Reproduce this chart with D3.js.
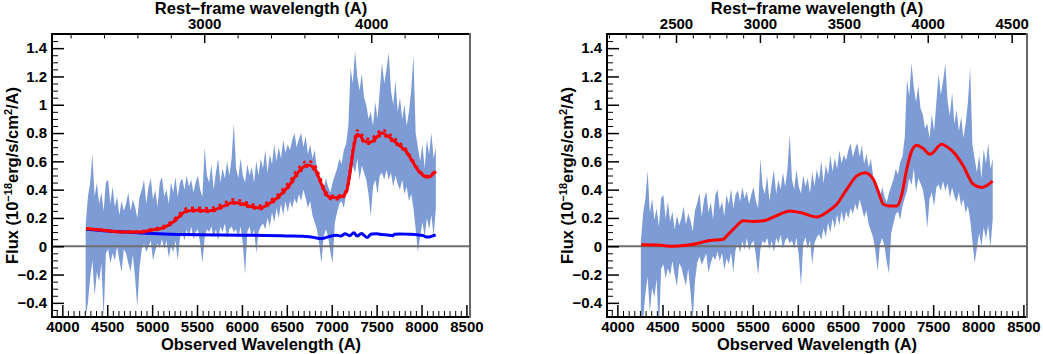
<!DOCTYPE html>
<html>
<head>
<meta charset="utf-8">
<script src="https://cdn.jsdelivr.net/npm/d3@7"></script>
<style>
  body { margin: 0; background: #fff; }
  svg { display: block; font-family: "Liberation Sans", Arial, sans-serif; font-weight: bold; }
</style>
</head>
<body>
<script>
// ---- data ----
const redshift = 0.86;
const obsRange = [3885, 8540];
const fluxRange = [-0.5, 1.5];
const obsTicks = [4000, 4500, 5000, 5500, 6000, 6500, 7000, 7500, 8000, 8500];
const fluxTicks = [-0.4, -0.2, 0, 0.2, 0.4, 0.6, 0.8, 1, 1.2, 1.4];
const restTicksLeft = [3000, 4000];
const restTicksRight = [2500, 3000, 3500, 4000, 4500];

// observed spectrum, upper / lower edge of the shaded band (25 A bins from 4260 A)
const specWave = d3.range(4260, 8161, 25);
const specHi = [
  0.15, 0.35, 0.45, 0.65, 0.35, 0.45, 0.30, 0.38, 0.25, 0.45,
  0.47, 0.30, 0.42, 0.28, 0.35, 0.22, 0.32, 0.25,
  0.30, 0.38, 0.25, 0.33, 0.28, 0.20, 0.35, 0.40,
  0.47, 0.30, 0.42, 0.48, 0.33, 0.40, 0.28, 0.45, 0.49, 0.35, 0.40, 0.30, 0.45, 0.38,
  0.49, 0.35, 0.45,
  0.48, 0.40, 0.50, 0.42, 0.47, 0.38, 0.45, 0.50, 0.40, 0.35,
  0.70, 0.50,
  0.45, 0.58, 0.40, 0.52, 0.62, 0.45, 0.55, 0.48, 0.60, 0.50, 0.62, 0.87,
  0.55, 0.48, 0.62, 0.50, 0.45, 0.58, 0.50, 0.56, 0.45, 0.60, 0.50, 0.62,
  0.55, 0.68, 0.52, 0.65, 0.58, 0.72, 0.60, 0.70, 0.62, 0.75, 0.66, 0.72, 0.68, 0.75, 0.80, 0.70,
  0.76, 0.80, 0.70, 0.78, 0.65, 0.72, 0.62, 0.68, 0.55,
  0.50, 0.45, 0.40, 0.48, 0.42, 0.38, 0.45, 0.50,
  0.55, 0.62, 0.58, 0.68, 0.72, 0.85, 1.26, 1.15,
  1.38, 1.20, 1.10, 1.22, 1.05,
  1.00, 0.90, 0.95, 0.85, 1.02, 0.90, 1.10,
  1.30, 1.15, 1.25, 1.37, 1.10, 1.00, 1.17, 0.95, 1.05, 0.90, 1.00, 0.85, 0.95, 1.10, 1.35,
  0.80, 0.70, 0.60, 0.72, 0.55, 0.75, 0.65, 0.80, 0.62, 0.70
];
const specLo = [
  -0.50, -0.40, -0.22, -0.10, -0.35, -0.18, -0.25, -0.12, -0.50, -0.05,
  -0.02, -0.12, -0.05, -0.10, 0.00, -0.10, -0.18, -0.02,
  -0.05, -0.12, -0.18, -0.06, -0.22, -0.43, -0.15, -0.02,
  0.02, -0.04, 0.00, 0.04, -0.10, -0.03, 0.02, -0.01, 0.05, -0.02, 0.04, -0.08, 0.00, -0.04,
  0.04, -0.10, 0.06,
  0.10, 0.04, 0.12, 0.06, 0.14, 0.05, 0.10, 0.12, 0.02, -0.12,
  0.06, 0.12,
  0.10, 0.14, 0.06, 0.12, 0.04, 0.14, 0.10, 0.16, 0.06, 0.12, 0.14, 0.10,
  0.12, 0.06, 0.14, 0.02, -0.20, 0.10, 0.14, 0.06, 0.12, -0.05, 0.10, 0.14,
  0.16, 0.12, 0.20, 0.14, 0.24, 0.17, 0.27, 0.20, 0.30, 0.22, 0.32, 0.24, 0.32, 0.27, 0.34, 0.30,
  0.37, 0.32, 0.40, 0.34, 0.27, 0.32, 0.22, 0.17, 0.12,
  0.02, -0.12, 0.07, 0.12, 0.07, -0.04, -0.12, 0.17,
  0.24, 0.30, 0.32, 0.27, 0.37, 0.42, 0.47, 0.57,
  0.52, 0.62, 0.47, 0.57, 0.52,
  0.47, 0.37, 0.21, 0.42, 0.47, 0.37, 0.50,
  0.52, 0.47, 0.54, 0.47, 0.52, 0.42, 0.50, 0.44, 0.40, 0.47, 0.37, 0.42, 0.32, 0.37, 0.27,
  0.12, -0.04, 0.07, 0.17, 0.07, 0.20, 0.12, 0.22, 0.07, 0.27
];

// host / contaminant component (blue line, left panel)
const hostWave = [4265, 4500, 4800, 5000, 5200, 5500, 6000, 6500, 6750, 6820, 6870, 6920, 6980, 7050, 7100,
  7150, 7200, 7246, 7283, 7330, 7395, 7440, 7500, 7560, 7620, 7680, 7700, 7760, 7850, 7950, 8020, 8065, 8110, 8158];
const hostFlux = [0.120, 0.108, 0.097, 0.090, 0.085, 0.082, 0.078, 0.073, 0.068, 0.060, 0.054, 0.058, 0.070, 0.078, 0.072,
  0.088, 0.075, 0.095, 0.072, 0.090, 0.062, 0.086, 0.088, 0.083, 0.080, 0.075, 0.085, 0.087, 0.085, 0.082, 0.075, 0.065, 0.070, 0.080];

// total model (red, left panel) and its upper / lower uncertainty (dotted)
const modelWave = [4265, 4500, 4700, 4863, 5000, 5120, 5232, 5300, 5385, 5500, 5600, 5678, 5800, 5902, 6000, 6100, 6203,
  6300, 6390, 6470, 6538, 6600, 6650, 6725, 6780, 6818, 6860, 6892, 6948, 7000, 7060, 7134, 7170, 7208, 7245, 7283,
  7320, 7357, 7431, 7500, 7560, 7630, 7692, 7760, 7823, 7890, 7953, 8010, 8065, 8110, 8158];
const modelFlux = [0.125, 0.110, 0.100, 0.100, 0.115, 0.130, 0.170, 0.210, 0.250, 0.255, 0.250, 0.255, 0.285, 0.310, 0.300, 0.280, 0.270,
  0.300, 0.340, 0.390, 0.440, 0.500, 0.540, 0.575, 0.565, 0.540, 0.480, 0.430, 0.360, 0.345, 0.345, 0.360, 0.400, 0.540, 0.700, 0.790,
  0.780, 0.745, 0.735, 0.770, 0.800, 0.775, 0.745, 0.710, 0.675, 0.610, 0.545, 0.505, 0.488, 0.500, 0.530];
const modelErrUp = [0.003, 0.003, 0.004, 0.005, 0.007, 0.010, 0.014, 0.016, 0.018, 0.018, 0.018, 0.018, 0.020, 0.020, 0.020, 0.018, 0.018,
  0.018, 0.020, 0.022, 0.024, 0.026, 0.027, 0.028, 0.028, 0.026, 0.022, 0.018, 0.014, 0.012, 0.012, 0.014, 0.016, 0.020, 0.025, 0.028,
  0.027, 0.025, 0.022, 0.024, 0.025, 0.024, 0.022, 0.018, 0.015, 0.012, 0.010, 0.008, 0.008, 0.008, 0.008];
const modelErrLow = [0.002, 0.002, 0.002, 0.003, 0.004, 0.005, 0.006, 0.007, 0.008, 0.008, 0.008, 0.008, 0.009, 0.009, 0.009, 0.008, 0.008,
  0.008, 0.009, 0.010, 0.011, 0.012, 0.012, 0.013, 0.013, 0.012, 0.012, 0.012, 0.012, 0.012, 0.012, 0.012, 0.010, 0.010, 0.012, 0.013,
  0.013, 0.012, 0.011, 0.012, 0.012, 0.012, 0.011, 0.009, 0.008, 0.006, 0.005, 0.004, 0.004, 0.004, 0.004];

// host-subtracted model (red, right panel)
const subWave = [4265, 4450, 4620, 4805, 5027, 5174, 5212, 5300, 5396, 5500, 5617, 5760, 5913, 6050, 6209, 6320, 6431, 6540,
  6653, 6745, 6837, 6890, 6948, 7020, 7096, 7150, 7207, 7260, 7318, 7390, 7465, 7595, 7660, 7723, 7834, 7945, 8038, 8158];
const subFlux = [0.010, 0.008, 0.000, 0.010, 0.040, 0.050, 0.073, 0.130, 0.180, 0.175, 0.180, 0.215, 0.250, 0.235, 0.207, 0.240, 0.297, 0.400,
  0.497, 0.520, 0.473, 0.390, 0.297, 0.285, 0.285, 0.360, 0.544, 0.670, 0.714, 0.690, 0.650, 0.720, 0.700, 0.667, 0.567, 0.438, 0.415, 0.460];

// ---- drawing ----
const width = 1043, height = 354;
const frameTop = 34, frameBottom = 317;
const bandColor = '#7d9bd4';

const svg = d3.select('body').append('svg')
  .attr('width', width)
  .attr('height', height);

const hostAt = d3.scaleLinear().domain(hostWave).range(hostFlux).clamp(true);

function styleAxis(g, size) {
  g.attr('font-size', size)
    .attr('font-family', '"Liberation Sans", Arial, sans-serif')
    .attr('font-weight', 'bold');
  g.select('.domain').remove();
}

function drawPanel(p) {
  const x = d3.scaleLinear().domain(obsRange).range([p.left, p.right]);
  const y = d3.scaleLinear().domain(fluxRange).range([frameBottom, frameTop]);
  const xr = d3.scaleLinear().domain(obsRange.map(v => v / (1 + redshift))).range([p.left, p.right]);

  const g = svg.append('g');

  g.append('clipPath').attr('id', p.id)
    .append('rect')
    .attr('x', p.left).attr('y', frameTop)
    .attr('width', p.right - p.left).attr('height', frameBottom - frameTop);

  const plot = g.append('g').attr('clip-path', `url(#${p.id})`);

  // spectrum band
  const rows = specWave.map((w, i) => {
    const off = p.subtract ? hostAt(w) : 0;
    return { w, hi: specHi[i] - off, lo: specLo[i] - off };
  });
  plot.append('path')
    .datum(rows)
    .attr('fill', bandColor)
    .attr('d', d3.area().x(d => x(d.w)).y0(d => y(d.lo)).y1(d => y(d.hi)));

  // zero line
  plot.append('line')
    .attr('x1', p.left).attr('x2', p.right)
    .attr('y1', y(0)).attr('y2', y(0))
    .attr('stroke', '#6e6e6e').attr('stroke-width', 2);

  const line = d3.line().curve(d3.curveMonotoneX).x(d => x(d[0])).y(d => y(d[1]));

  if (!p.subtract) {
    plot.append('path')
      .datum(hostWave.map((w, i) => [w, hostFlux[i]]))
      .attr('fill', 'none').attr('stroke', '#0000ff').attr('stroke-width', 3)
      .attr('d', line);

    [modelFlux.map((v, i) => v + modelErrUp[i]), modelFlux.map((v, i) => v - modelErrLow[i])].forEach(vals => {
      plot.append('path')
        .datum(modelWave.map((w, i) => [w, vals[i]]))
        .attr('fill', 'none').attr('stroke', '#ff0000').attr('stroke-width', 2.5)
        .attr('stroke-dasharray', '3,4')
        .attr('d', line);
    });
    plot.append('path')
      .datum(modelWave.map((w, i) => [w, modelFlux[i]]))
      .attr('fill', 'none').attr('stroke', '#ff0000').attr('stroke-width', 3)
      .attr('d', line);
  } else {
    plot.append('path')
      .datum(subWave.map((w, i) => [w, subFlux[i]]))
      .attr('fill', 'none').attr('stroke', '#ff0000').attr('stroke-width', 3)
      .attr('d', line);
  }

  // bottom axis (ticks point inwards)
  const obsMinor = d3.range(4000 - 62.5, obsRange[1], 62.5).filter(v => v > obsRange[0] && v % 500 !== 0);
  g.append('g').attr('transform', `translate(0,${frameBottom})`)
    .call(d3.axisBottom(x).tickValues(obsMinor).tickSize(-6).tickFormat(''))
    .call(a => styleAxis(a, 15));
  g.append('g').attr('transform', `translate(0,${frameBottom})`)
    .call(d3.axisBottom(x).tickValues(obsTicks).tickSize(-12).tickPadding(4).tickFormat(d3.format('d')))
    .call(a => styleAxis(a, 15))
    .selectAll('line').attr('stroke-width', 1.5);

  // left axis
  const fluxMinor = d3.range(-10, 31).map(k => k * 0.05)
    .filter(v => Math.abs(Math.round(v * 5) - v * 5) > 1e-6);
  g.append('g').attr('transform', `translate(${p.left},0)`)
    .call(d3.axisLeft(y).tickValues(fluxMinor).tickSize(-6).tickFormat(''))
    .call(a => styleAxis(a, 15));
  g.append('g').attr('transform', `translate(${p.left},0)`)
    .call(d3.axisLeft(y).tickValues(fluxTicks).tickSize(-12).tickPadding(5).tickFormat(d3.format('.1~f')))
    .call(a => styleAxis(a, 15))
    .selectAll('line').attr('stroke-width', 1.5);

  // top axis: rest-frame wavelength
  const rd = xr.domain();
  const restMinor = d3.range(Math.ceil(rd[0] / p.restMinor) * p.restMinor, rd[1], p.restMinor)
    .filter(v => !p.restTicks.includes(v));
  g.append('g').attr('transform', `translate(0,${frameTop})`)
    .call(d3.axisTop(xr).tickValues(restMinor).tickSize(-4.5).tickFormat(''))
    .call(a => styleAxis(a, 15));
  g.append('g').attr('transform', `translate(0,${frameTop})`)
    .call(d3.axisTop(xr).tickValues(p.restTicks).tickSize(-9).tickPadding(5.5).tickFormat(d3.format('d')))
    .call(a => styleAxis(a, 15))
    .selectAll('line').attr('stroke-width', 1.5);

  // frame
  const frame = g.append('g').attr('fill', 'none');
  frame.append('path')
    .attr('d', `M${p.right},${frameTop}H${p.left}V${frameBottom}H${p.right}`)
    .attr('stroke', '#000').attr('stroke-width', 2);
  frame.append('line')
    .attr('x1', p.right).attr('x2', p.right).attr('y1', frameTop - 1).attr('y2', frameBottom + 1)
    .attr('stroke', '#666').attr('stroke-width', 2);

  // titles
  const cx = (p.left + p.right) / 2;
  g.append('text').attr('x', cx).attr('y', 13.5)
    .attr('text-anchor', 'middle').attr('font-size', 16.5)
    .text('Rest\u2212frame wavelength (A)');
  g.append('text').attr('x', cx).attr('y', 350)
    .attr('text-anchor', 'middle').attr('font-size', 16.5)
    .text('Observed Wavelength (A)');

  const yt = g.append('text')
    .attr('transform', `translate(${p.left - 34},${(frameTop + frameBottom) / 2}) rotate(-90)`)
    .attr('text-anchor', 'middle').attr('font-size', 16.5);
  yt.append('tspan').text('Flux (10');
  yt.append('tspan').attr('dy', -6.5).attr('font-size', 11).text('\u221218');
  yt.append('tspan').attr('dy', 6.5).text('erg/s/cm');
  yt.append('tspan').attr('dy', -6.5).attr('font-size', 11).text('2');
  yt.append('tspan').attr('dy', 6.5).text('/A)');
}

drawPanel({ id: 'clipL', left: 52, right: 470, subtract: false, restTicks: restTicksLeft, restMinor: 200 });
drawPanel({ id: 'clipR', left: 607, right: 1027, subtract: true, restTicks: restTicksRight, restMinor: 100 });
</script>
</body>
</html>
